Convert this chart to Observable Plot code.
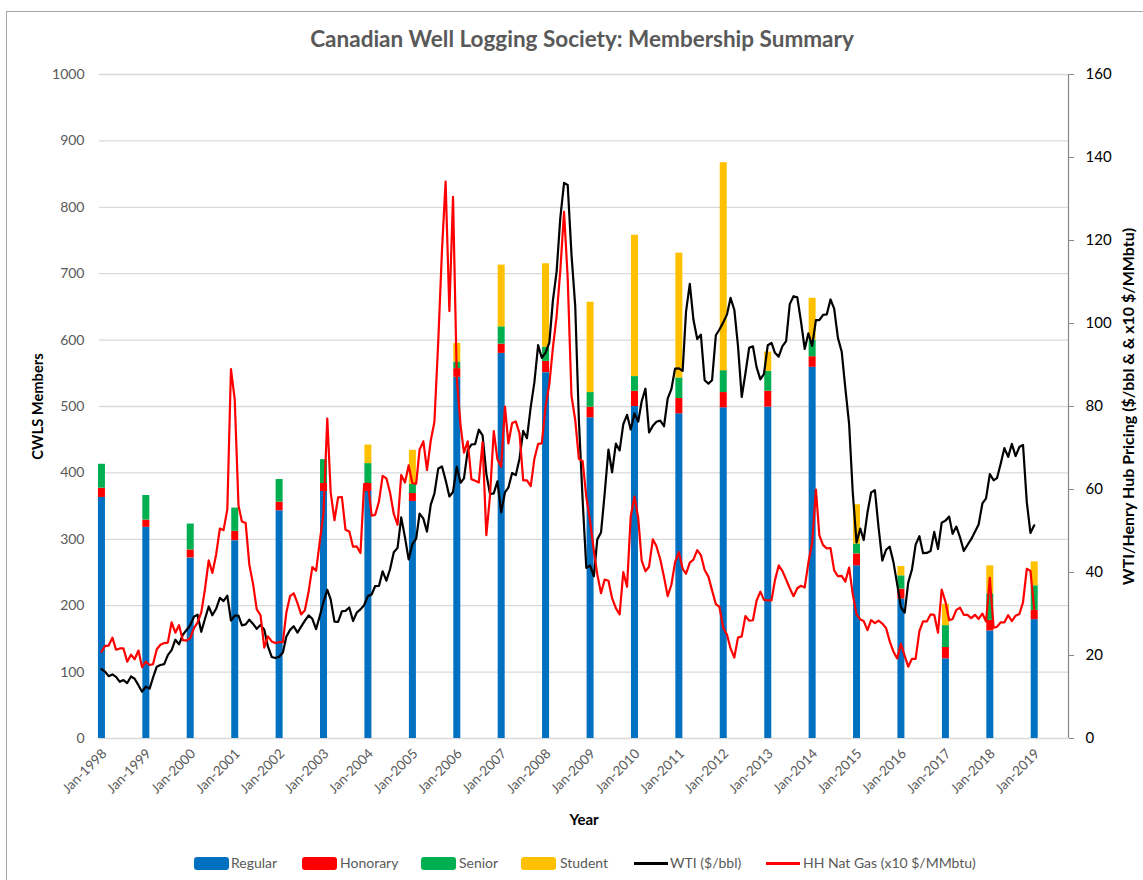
<!DOCTYPE html>
<html>
<head>
<meta charset="utf-8">
<script src="https://cdn.jsdelivr.net/npm/d3@7"></script>
<script src="https://cdn.jsdelivr.net/npm/@observablehq/plot@0.6"></script>
<style>
  html, body { margin: 0; padding: 0; background: #fff; }
  body { position: relative; width: 1143px; height: 880px; overflow: hidden; font-family: Lato, "Open Sans", sans-serif; }
  #border { position: absolute; left: 6px; top: 11px; width: 1300px; height: 1000px; border-left: 1.5px solid #a6a6a6; border-top: 1.5px solid #a6a6a6; }
  #chart { position: absolute; left: 0; top: 0; }
  #title { position: absolute; left: 21px; top: 25px; width: 1122px; text-align: center; font-weight: bold; font-size: 22.5px; color: #595959; }
  .lg { position: absolute; top: 855px; font-size: 14px; color: #595959; line-height: 16px; }
  .sw { position: absolute; top: 857px; width: 35px; height: 13px; border-radius: 3px; }
  .ln { position: absolute; top: 862px; width: 34px; height: 3px; }
</style>
</head>
<body>
<div id="border"></div>
<div id="chart"></div>
<div id="title">Canadian Well Logging Society: Membership Summary</div>
<div id="legend"></div>
<script>
// ---- Data ----
const years = [1998,1999,2000,2001,2002,2003,2004,2005,2006,2007,2008,2009,2010,2011,2012,2013,2014,2015,2016,2017,2018,2019];
const memberTypes = ["Regular", "Honorary", "Senior", "Student"];
const regular  = [363,318,272,298,343,372,372,357,544,580,551,483,500,489,498,499,559,260,210,120,162,179];
const honorary = [14,11,12,14,13,12,12,12,13,14,17,16,23,23,23,24,16,18,15,17,16,14];
const senior   = [36,37,39,35,34,36,30,14,10,26,21,22,22,31,33,30,25,15,20,33,40,37];
const student  = [0,0,0,0,0,0,28,51,28,93,126,136,213,188,313,29,63,59,14,32,42,36];
const memberColors = ["#0070C0", "#FF0000", "#00B050", "#FFC000"];

// Monthly WTI ($/bbl), Jan-1998 .. Jan-2019
const wti = [
  16.71,16.06,15.02,15.44,14.86,13.66,14.08,13.36,14.95,14.39,12.85,11.28,
  12.47,12.01,14.68,17.31,17.72,17.92,20.10,21.28,23.80,22.69,25.00,26.10,
  27.26,29.37,29.84,25.72,28.79,31.82,29.70,31.26,33.88,33.11,34.42,28.44,
  29.59,29.61,27.25,27.49,28.63,27.60,26.43,27.37,26.20,22.17,19.64,19.39,
  19.72,20.72,24.53,26.18,27.04,25.52,26.97,28.39,29.66,28.84,26.35,29.46,
  32.95,35.83,33.51,28.17,28.11,30.66,30.76,31.57,28.31,30.34,31.11,32.13,
  34.31,34.69,36.74,36.75,40.28,38.03,40.78,44.90,45.94,53.28,48.47,43.15,
  46.84,48.15,54.19,52.98,49.83,56.35,59.00,64.99,65.59,62.26,58.32,59.41,
  65.49,61.63,62.69,69.44,70.84,70.95,74.41,73.04,63.80,58.89,59.08,61.96,
  54.51,59.28,60.44,63.98,63.46,67.49,74.12,72.36,79.92,85.80,94.77,91.69,
  92.97,95.39,105.45,112.58,125.40,133.88,133.37,116.67,104.11,76.61,57.31,41.12,
  41.71,39.09,47.94,49.65,59.03,69.64,64.15,71.05,69.41,75.72,77.99,74.47,
  78.33,76.39,81.20,84.29,73.74,75.34,76.32,76.60,75.24,81.89,84.25,89.15,
  89.17,88.58,102.86,109.53,100.90,96.26,97.30,86.33,85.52,86.32,97.16,98.56,
  100.27,102.20,106.16,103.32,94.66,82.30,87.90,94.13,94.51,89.49,86.53,87.86,
  94.76,95.31,92.94,92.02,94.51,95.77,104.67,106.57,106.29,100.54,93.86,97.63,
  94.62,100.82,100.80,102.07,102.18,105.79,103.59,96.54,93.21,84.40,75.79,59.29,
  47.22,50.58,47.82,54.45,59.27,59.82,50.90,42.87,45.48,46.22,42.44,37.19,
  31.68,30.32,37.55,40.75,46.71,48.76,44.65,44.72,45.18,49.78,45.66,51.97,
  52.50,53.47,49.33,51.06,48.48,45.18,46.63,48.04,49.82,51.58,56.64,57.88,
  63.70,62.23,62.73,66.25,69.98,67.87,70.98,68.06,70.23,70.75,56.96,49.52,
  51.38
];
// Monthly Henry Hub natural gas ($/MMbtu), Jan-1998 .. Jan-2019 (plotted x10)
const hhGas = [
  2.09,2.23,2.24,2.43,2.14,2.17,2.17,1.85,2.02,1.91,2.12,1.72,
  1.85,1.77,1.79,2.15,2.26,2.30,2.31,2.80,2.55,2.73,2.37,2.36,
  2.42,2.66,2.79,3.04,3.59,4.29,3.99,4.43,5.06,5.02,5.52,8.90,
  8.17,5.61,5.23,5.19,4.19,3.72,3.11,2.97,2.19,2.46,2.34,2.30,
  2.32,2.32,3.03,3.43,3.50,3.26,2.99,3.09,3.55,4.13,4.04,4.74,
  5.43,7.71,5.93,5.26,5.81,5.82,5.03,4.99,4.62,4.63,4.47,6.13,
  6.14,5.37,5.39,5.71,6.33,6.27,5.93,5.41,5.15,6.35,6.17,6.58,
  6.15,6.14,6.96,7.16,6.47,7.18,7.63,9.53,11.75,13.42,10.30,13.05,
  8.69,7.54,6.89,7.16,6.25,6.21,6.17,7.14,4.90,5.85,7.41,6.73,
  6.55,8.00,7.11,7.60,7.64,7.35,6.22,6.22,6.08,6.74,7.10,7.11,
  7.99,8.54,9.41,10.18,11.27,12.69,11.09,8.26,7.67,6.74,6.68,5.82,
  5.24,4.52,3.96,3.50,3.83,3.80,3.38,3.14,2.99,4.01,3.66,5.35,
  5.83,5.32,4.29,4.03,4.14,4.80,4.63,4.32,3.89,3.43,3.71,4.25,
  4.49,4.09,3.97,4.24,4.31,4.54,4.42,4.06,3.90,3.57,3.24,3.17,
  2.67,2.50,2.17,1.95,2.43,2.46,2.95,2.84,2.85,3.32,3.54,3.34,
  3.33,3.33,3.81,4.17,4.04,3.83,3.62,3.43,3.62,3.68,3.64,4.24,
  4.71,6.00,4.90,4.66,4.58,4.59,4.05,3.91,3.92,3.78,4.12,3.48,
  2.99,2.87,2.83,2.61,2.85,2.78,2.84,2.77,2.66,2.34,2.09,1.93,
  2.28,1.99,1.73,1.92,1.92,2.59,2.82,2.82,2.99,2.98,2.55,3.59,
  3.30,2.85,2.88,3.10,3.15,2.98,2.98,2.90,2.98,2.88,3.01,2.82,
  3.87,2.67,2.69,2.80,2.80,2.97,2.83,2.96,3.00,3.28,4.09,4.04,
  3.11
];
const memberTicks = [0,100,200,300,400,500,600,700,800,900,1000];
const priceTicks = [0,20,40,60,80,100,120,140,160];
const xDomain = [new Date(Date.UTC(1997, 11, 16)), new Date(Date.UTC(2019, 9, 10))];

// ---- Derived tables ----
const MEMBERS_MAX = 1000, PRICE_MAX = 160;
const toLeft = v => v * MEMBERS_MAX / PRICE_MAX;
const seriesArr = [regular, honorary, senior, student];
const stacked = [];
years.forEach((yr, i) => {
  let base = 0;
  memberTypes.forEach((t, k) => {
    const v = seriesArr[k][i];
    if (v > 0) stacked.push({date: new Date(Date.UTC(yr, 0, 1)), type: t, y1: base, y2: base + v});
    base += v;
  });
});
const month0 = new Date(Date.UTC(1998, 0, 1));
const monthDate = i => d3.utcMonth.offset(month0, i);
const prices = wti.map((w, i) => ({date: monthDate(i), wti: w, gas: hhGas[i] * 10}));

const chart = Plot.plot({
  width: 1143,
  height: 880,
  marginTop: 74,
  marginBottom: 142,
  marginLeft: 99,
  marginRight: 75,
  style: {fontFamily: "Lato, 'Open Sans', sans-serif", background: "transparent"},
  x: {type: "utc", domain: xDomain},
  y: {domain: [0, MEMBERS_MAX]},
  color: {domain: memberTypes, range: memberColors},
  marks: [
    Plot.gridY(memberTicks, {stroke: "#d9d9d9", strokeOpacity: 1, strokeWidth: 1.3}),
    Plot.axisY(memberTicks, {anchor: "left", tickSize: 0, tickPadding: 15, tickFormat: d => String(d), fontSize: 14, fill: "#595959", label: null}),
    Plot.axisY(priceTicks.map(toLeft), {anchor: "right", tickSize: 5, tickPadding: 12, tickFormat: d => String(Math.round(d * PRICE_MAX / MEMBERS_MAX)), fontSize: 15, fill: "#000", stroke: "#868686", label: null}),
    Plot.ruleX([xDomain[1]], {y1: 0, y2: MEMBERS_MAX, stroke: "#868686", strokeWidth: 1.2}),
    Plot.axisX(years.map(y => new Date(Date.UTC(y, 0, 1))), {tickSize: 0, tickPadding: 11, tickRotate: -45, dx: 3, dy: 2, tickFormat: d => "Jan-" + d.getUTCFullYear(), fontSize: 13.5, fill: "#595959", label: null}),
    Plot.ruleX(stacked, {x: "date", y1: "y1", y2: "y2", stroke: "type", strokeWidth: 7}),
    Plot.line(prices, {x: "date", y: d => toLeft(d.wti), stroke: "#000", strokeWidth: 2.2}),
    Plot.line(prices, {x: "date", y: d => toLeft(d.gas), stroke: "#FF0000", strokeWidth: 2.2}),
    Plot.text(["CWLS Members"], {frameAnchor: "left", dx: -61, rotate: -90, textAnchor: "middle", lineAnchor: "middle", fontWeight: "bold", fontSize: 14.7, fill: "#000"}),
    Plot.text(["WTI/Henry Hub Pricing ($/bbl & & x10 $/MMbtu)"], {frameAnchor: "right", dx: 60, rotate: -90, textAnchor: "middle", lineAnchor: "middle", fontWeight: "bold", fontSize: 16, fill: "#000"}),
    Plot.text(["Year"], {frameAnchor: "bottom", dy: 82, textAnchor: "middle", lineAnchor: "middle", fontWeight: "bold", fontSize: 15, fill: "#000"})
  ]
});
document.getElementById("chart").append(chart);

// ---- Legend ----
const legendItems = [
  {label: "Regular", color: memberColors[0], kind: "sw", x: 194, tx: 231},
  {label: "Honorary", color: memberColors[1], kind: "sw", x: 302, tx: 340},
  {label: "Senior", color: memberColors[2], kind: "sw", x: 421, tx: 459},
  {label: "Student", color: memberColors[3], kind: "sw", x: 521, tx: 560},
  {label: "WTI ($/bbl)", color: "#000", kind: "ln", x: 634, tx: 670},
  {label: "HH Nat Gas (x10 $/MMbtu)", color: "#FF0000", kind: "ln", x: 766, tx: 803}
];
const legend = document.getElementById("legend");
legendItems.forEach(it => {
  const s = document.createElement("div");
  s.className = it.kind;
  s.style.left = it.x + "px";
  s.style.background = it.color;
  legend.append(s);
  const t = document.createElement("div");
  t.className = "lg";
  t.style.left = it.tx + "px";
  t.textContent = it.label;
  legend.append(t);
});
</script>
</body>
</html>
